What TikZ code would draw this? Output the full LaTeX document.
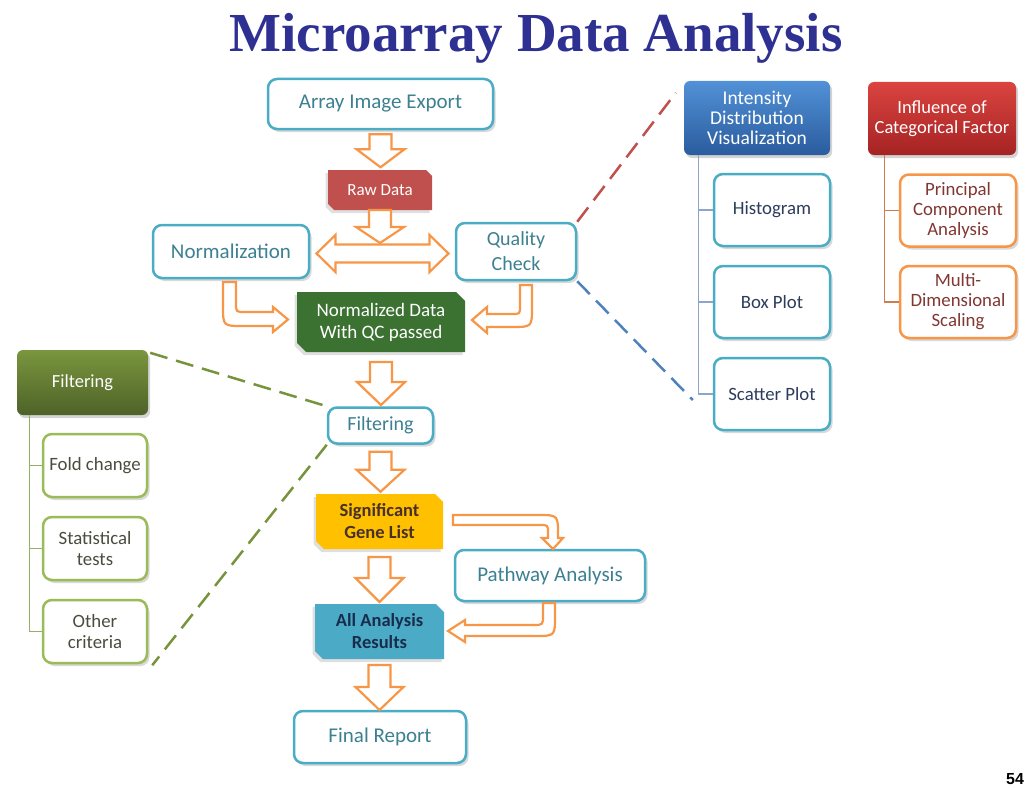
\documentclass[tikz,border=0pt]{standalone}
\usepackage{fontspec}
\setmainfont{Carlito}
\newfontfamily\titlefont{Liberation Serif}
\newfontfamily\pgfont{Liberation Sans}
\usetikzlibrary{shadows,calc,backgrounds}
\definecolor{titleblue}{RGB}{46,49,146}
\definecolor{tealb}{RGB}{75,172,198}
\definecolor{tealtext}{RGB}{60,128,146}
\definecolor{navytext}{RGB}{45,60,92}
\definecolor{orangeb}{RGB}{247,150,70}
\definecolor{pcatext}{RGB}{130,55,50}
\definecolor{greenb}{RGB}{155,187,89}
\definecolor{greentext}{RGB}{75,75,62}
\definecolor{rawred}{RGB}{192,80,77}
\definecolor{nqcgreen}{RGB}{59,114,50}
\definecolor{gold}{RGB}{255,192,0}
\definecolor{sigtext}{RGB}{72,48,44}
\definecolor{allblue}{RGB}{75,170,198}
\definecolor{alltext}{RGB}{25,45,75}
\definecolor{bluetop}{RGB}{82,145,215}
\definecolor{bluebot}{RGB}{42,92,158}
\definecolor{redtop}{RGB}{218,68,64}
\definecolor{redbot}{RGB}{165,35,35}
\definecolor{grtop}{RGB}{122,150,62}
\definecolor{grbot}{RGB}{78,98,40}
\definecolor{treeblue}{RGB}{140,165,200}
\definecolor{treeorange}{RGB}{205,125,80}
\definecolor{treegreen}{RGB}{150,175,100}
\definecolor{dashred}{RGB}{192,80,77}
\definecolor{dashblue}{RGB}{79,129,189}
\definecolor{dashgreen}{RGB}{119,147,60}
\newcommand\snipfill[3]{%
  \begin{scope}[on background layer]
  \fill[#2, drop shadow={shadow xshift=-2.5pt, shadow yshift=-3pt, opacity=0.25}]
    (#1.north west) -- ([xshift=-#3]#1.north east) -- ([yshift=-#3]#1.north east)
    -- (#1.south east) -- ([xshift=#3]#1.south west) -- ([yshift=#3]#1.south west) -- cycle;
  \end{scope}}
\tikzset{
  tbox/.style={draw=tealb, line width=2.5pt, rounded corners=9pt, fill=white,
    text=tealtext, align=center, inner sep=2pt, font=\fontsize{21}{25}\selectfont,
    drop shadow={shadow xshift=2.5pt, shadow yshift=-3pt, opacity=0.3}},
  subbox/.style={tbox, text=navytext, font=\fontsize{18.8}{20}\selectfont,
    minimum width=116pt, minimum height=72pt},
  pcabox/.style={subbox, draw=orangeb, text=pcatext},
  grbox/.style={subbox, draw=greenb, text=greentext, minimum width=104pt, minimum height=63pt,
    font=\fontsize{18.8}{21}\selectfont},
  snipbox/.style={rectangle, inner sep=0pt, outer sep=0pt,
    align=center, text=white, font=\fontsize{19}{22}\selectfont},
  header/.style={rounded corners=6pt, text=white, align=center, inner sep=2pt,
    font=\fontsize{18.5}{20}\selectfont,
    drop shadow={shadow xshift=2pt, shadow yshift=-3pt, opacity=0.35}},
  blockarrow/.style={draw=orangeb, line width=2.2pt, fill=white, line join=miter},
  dashline/.style={line width=2.5pt, dash pattern=on 18pt off 9pt},
  treeline/.style={line width=1.3pt},
  pics/dnarr/.style 2 args={code={
    \draw[blockarrow] (-11,0) -- (-11,#1) -- (-24,#1) -- (0,#2) -- (24,#1) -- (11,#1) -- (11,0) -- cycle;}},
  pics/dblarr/.style={code={
    \draw[blockarrow] (-66,0) -- (-47,-18.5) -- (-47,-9) -- (47,-9) -- (47,-18.5) -- (66,0)
      -- (47,18.5) -- (47,9) -- (-47,9) -- (-47,18.5) -- cycle;}}
}
\begin{document}
\begin{tikzpicture}[x=1pt,y=-1pt]
\useasboundingbox (0,0) rectangle (1035,789);

% title
\node[font=\titlefont\bfseries\fontsize{55}{60}\selectfont, text=titleblue, anchor=base, inner sep=0pt] (title) at (536,52) {Microarray Data Analysis};

% main flow boxes
\node[tbox, minimum width=225pt, minimum height=50pt] (aie) at (380.5,104) {Array Image Export};
\node[tbox, minimum width=156pt, minimum height=53pt] (norm) at (231,251.5) {Normalization};
\node[tbox, minimum width=120pt, minimum height=57pt, font=\fontsize{20}{25}\selectfont] (qc) at (516,251.5) {Quality\\Check};
\node[tbox, minimum width=105pt, minimum height=36pt, font=\fontsize{20}{24}\selectfont] (filt) at (380.5,425.5) {Filtering};
\node[tbox, minimum width=190pt, minimum height=51pt] (path) at (550,575.5) {Pathway Analysis};
\node[tbox, minimum width=172pt, minimum height=52pt] (final) at (380,737) {Final Report};

% block arrows
\pic at ($(aie.south)+(0,4)$) {dnarr={15}{33}};
\pic at ($(norm.east)!0.5!(qc.west)+(0,2)$) {dblarr};
\draw[blockarrow] (223,282) -- (236,282) -- (236,303) .. controls (236,312) .. (245,312) -- (273,312) -- (273,307) -- (288,319.5) -- (273,332) -- (273,326) -- (243,326) .. controls (223,326) .. (223,306) -- cycle;
\draw[blockarrow] (520,285) -- (532,285) -- (532,307) .. controls (532,327) .. (512,327) -- (487,327) -- (487,333) -- (472,320) -- (487,307) -- (487,314) -- (512,314) .. controls (520,314) .. (520,306) -- cycle;
\draw[blockarrow] (453,515) -- (538,515) .. controls (558,515) .. (558,535) -- (558,538) -- (563,538) -- (553,549) -- (542,538) -- (548,538) -- (548,533) .. controls (548,525) .. (540,525) -- (453,525) -- cycle;
\draw[blockarrow] (543,603) -- (555,603) -- (555,616) .. controls (555,636) .. (535,636) -- (465,636) -- (465,642) -- (448,631) -- (465,620) -- (465,625) -- (533,625) .. controls (543,625) .. (543,615) -- cycle;

% filled (snipped) boxes
\node[snipbox, minimum width=104pt, minimum height=40pt, font=\fontsize{17}{20}\selectfont] (raw) at (380,190) {Raw Data};
\snipfill{raw}{rawred}{6pt}
\pic at (raw.south) {dnarr={17}{33}};
\node[snipbox, minimum width=168pt, minimum height=60pt] (nqc) at (381,322) {Normalized Data\\With QC passed};
\snipfill{nqc}{nqcgreen}{9pt}
\pic at ($(nqc.south)+(0,10)$) {dnarr={20}{43}};
\pic at ($(filt.south)+(0,7)$) {dnarr={18}{40}};
\node[snipbox, text=sigtext, minimum width=127pt, minimum height=55pt, font=\bfseries\fontsize{18.5}{22}\selectfont] (sig) at (379.5,521.5) {Significant\\Gene List};
\snipfill{sig}{gold}{8pt}
\pic at ($(sig.south)+(0,8)$) {dnarr={21}{45}};
\node[snipbox, text=alltext, minimum width=129pt, minimum height=55pt, font=\bfseries\fontsize{18.5}{22}\selectfont] (all) at (379.5,631.5) {All Analysis\\Results};
\snipfill{all}{allblue}{8pt}
\pic at ($(all.south)+(0,6)$) {dnarr={22}{45}};

% right: intensity distribution
\node[header, top color=bluetop, bottom color=bluebot, minimum width=146pt, minimum height=74pt, font=\fontsize{19.5}{20}\selectfont] (idv) at (757,118) {Intensity\\Distribution\\Visualization};
\node[subbox] (hist) at (772,210) {Histogram};
\node[subbox] (boxp) at (772,302) {Box Plot};
\node[subbox] (scat) at (772,394) {Scatter Plot};
\coordinate (it) at ([xshift=15pt]idv.south west);
\draw[treeline, draw=treeblue] (it) |- (scat.west);
\draw[treeline, draw=treeblue] (it |- hist.west) -- (hist.west);
\draw[treeline, draw=treeblue] (it |- boxp.west) -- (boxp.west);

% right: categorical factor
\node[header, top color=redtop, bottom color=redbot, minimum width=148pt, minimum height=73pt] (icf) at (942,118.5) {Influence of\\Categorical Factor};
\node[pcabox] (pca) at (958,210.5) {Principal\\Component\\Analysis};
\node[pcabox] (mds) at (958,302) {Multi-\\Dimensional\\Scaling};
\coordinate (ic) at ([xshift=17pt]icf.south west);
\draw[treeline, draw=treeorange] (ic) |- (mds.west);
\draw[treeline, draw=treeorange] (ic |- pca.west) -- (pca.west);

% left: filtering
\node[header, top color=grtop, bottom color=grbot, minimum width=131pt, minimum height=65pt] (fhead) at (82.5,382.5) {Filtering};
\node[grbox] (fold) at (95,465.5) {Fold change};
\node[grbox] (stat) at (95,548.5) {Statistical\\tests};
\node[grbox] (oth) at (95,631.5) {Other\\criteria};
\coordinate (fc) at ([xshift=13pt]fhead.south west);
\draw[treeline, draw=treegreen] (fc) |- (oth.west);
\draw[treeline, draw=treegreen] (fc |- fold.west) -- (fold.west);
\draw[treeline, draw=treegreen] (fc |- stat.west) -- (stat.west);

% dashed links
\coordinate (redend) at ($(idv.north west)+(-8,12)$);
\coordinate (blueend) at ($(scat.west)+(-20,6)$);
\draw[dashline, draw=dashred] (qc.north east) -- (redend);
\draw[dashline, draw=dashblue] (qc.south east) -- (blueend);
\draw[dashline, draw=dashgreen] ($(fhead.north east)+(2,3)$) -- (filt.north west);
\draw[dashline, draw=dashgreen] (filt.south west) -- ($(oth.south east)+(4,1)$);

% page number
\node[font=\pgfont\bfseries\fontsize{16}{16}\selectfont, anchor=north west, inner sep=0pt] (pg) at (1006,773) {54};
\end{tikzpicture}
\end{document}
